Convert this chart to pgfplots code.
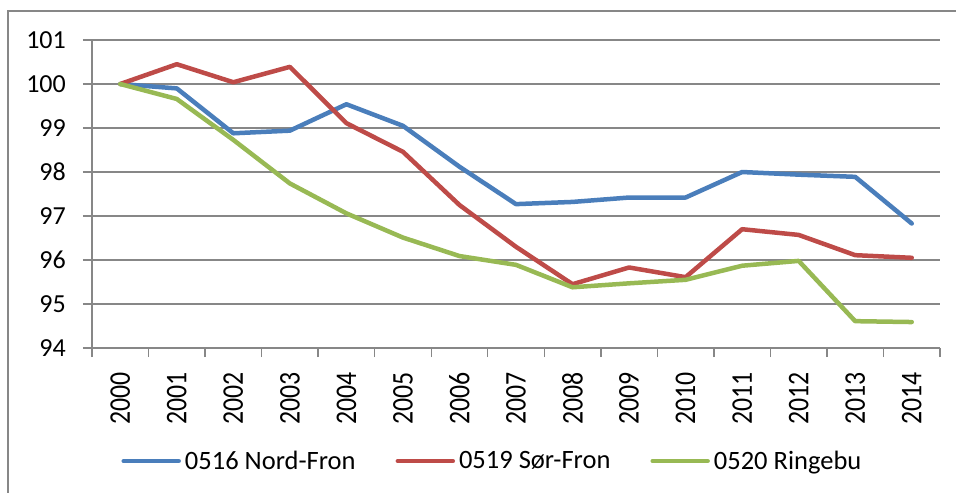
\documentclass[border=0pt]{standalone}
\usepackage{pgfplots}
\pgfplotsset{compat=1.18}
\usepackage{fontspec}
\setmainfont{Carlito}
\newfontfamily\xfont[FakeStretch=0.86]{Carlito}
\definecolor{cblue}{HTML}{4A7EBB}
\definecolor{cred}{HTML}{BE4B48}
\definecolor{cgreen}{HTML}{98B954}
\definecolor{cgrid}{HTML}{878787}
\begin{document}
\begin{tikzpicture}
\draw[cgrid, line width=1.4bp] (8bp,-520bp) -- (8bp,-11bp) -- (980bp,-11bp);
\begin{axis}[
  at={(92bp,-348bp)}, anchor=south west,
  scale only axis, width=848bp, height=308bp,
  xmin=-0.5, xmax=14.5, ymin=94, ymax=101,
  axis x line=bottom, axis y line=left,
  axis line style={-, cgrid, line width=1.4bp},
  ytick={94,95,...,101},
  xtick={0,...,14},
  xticklabels={2000,2001,2002,2003,2004,2005,2006,2007,2008,2009,2010,2011,2012,2013,2014},
  minor xtick={-0.5,0.5,...,14.5},
  tick align=outside,
  major tick length=9bp, minor tick length=9bp,
  major x tick style={draw=none},
  every tick/.style={cgrid, line width=1.4bp},
  minor x tick style={cgrid, line width=1.4bp},
  ymajorgrids,
  major grid style={cgrid, line width=1.4bp},
  yticklabel style={font=\fontsize{26bp}{30bp}\selectfont, inner sep=0bp, anchor=east, xshift=-17bp},
  xticklabel style={font=\xfont\fontsize{30bp}{34bp}\selectfont, rotate=90, anchor=east, inner sep=0bp, xshift=-15bp},
  /pgf/number format/assume math mode=true,
  legend columns=3,
  legend style={at={(axis description cs:0.471,-0.367)}, anchor=center, draw=none, fill=none,
    font=\fontsize{26.5bp}{30bp}\selectfont,
    nodes={inner sep=0bp},
    /tikz/every odd column/.append style={column sep=4bp},
    /tikz/every even column/.append style={column sep=40bp}},
  legend image code/.code={\draw[#1, line cap=round] (0bp,0bp) -- (55bp,0bp);},
  every axis plot/.append style={line width=4.5bp, line join=round, line cap=round},
]
\addplot[cblue] coordinates {(0,100) (1,99.90) (2,98.88) (3,98.94) (4,99.54) (5,99.05) (6,98.12) (7,97.27) (8,97.32) (9,97.42) (10,97.42) (11,98.00) (12,97.94) (13,97.89) (14,96.83)};
\addplot[cred] coordinates {(0,100) (1,100.45) (2,100.04) (3,100.39) (4,99.11) (5,98.46) (6,97.25) (7,96.30) (8,95.45) (9,95.83) (10,95.61) (11,96.70) (12,96.57) (13,96.11) (14,96.05)};
\addplot[cgreen] coordinates {(0,100) (1,99.66) (2,98.73) (3,97.74) (4,97.06) (5,96.51) (6,96.09) (7,95.89) (8,95.38) (9,95.47) (10,95.55) (11,95.87) (12,95.98) (13,94.61) (14,94.59)};
\legend{0516 Nord-Fron, 0519 Sør-Fron, 0520 Ringebu}
\end{axis}
\pgfresetboundingbox
\useasboundingbox (0,0) rectangle (956bp,-493bp);
\end{tikzpicture}
\end{document}
